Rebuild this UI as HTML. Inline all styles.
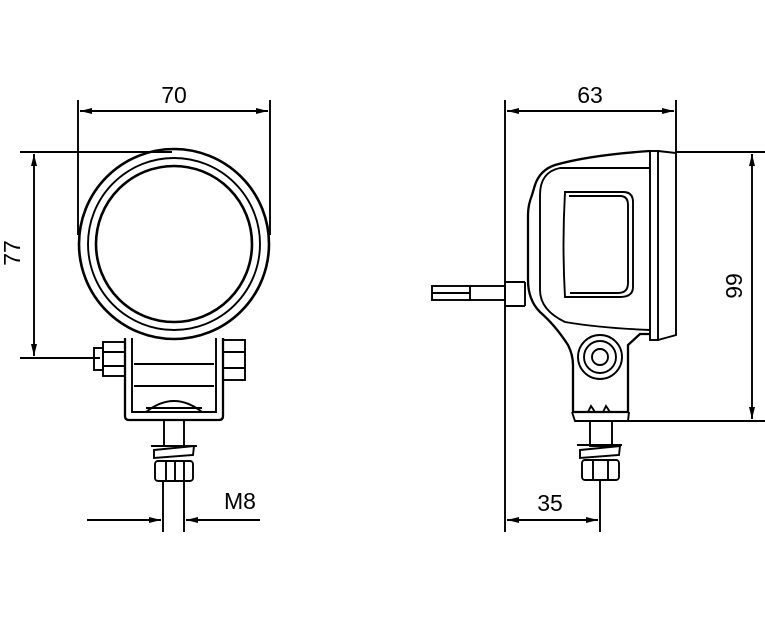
<!DOCTYPE html>
<html><head><style>body{margin:0;background:#fff}</style></head><body>
<svg width="765" height="612" viewBox="0 0 765 612" xmlns="http://www.w3.org/2000/svg" font-family="Liberation Sans, sans-serif">
<defs><marker id="a" viewBox="0 0 12 6" refX="12" refY="3" markerWidth="12" markerHeight="6" orient="auto-start-reverse" markerUnits="userSpaceOnUse"><path d="M0,0L12,3L0,6z" fill="#000"/></marker></defs>
<g stroke="#000" fill="none" stroke-width="1.9">
<line x1="78" y1="100" x2="78" y2="235"/><line x1="270" y1="100" x2="270" y2="235"/>
<line x1="80" y1="111" x2="268" y2="111" marker-start="url(#a)" marker-end="url(#a)"/>
<line x1="20" y1="152" x2="172" y2="152"/><line x1="20" y1="358" x2="100" y2="358"/>
<line x1="34" y1="154" x2="34" y2="356" marker-start="url(#a)" marker-end="url(#a)"/>
<circle cx="174" cy="244" r="95" stroke-width="2.6"/>
<circle cx="174" cy="244" r="86"/>
<circle cx="174" cy="244" r="78" stroke-width="2.6"/>
<path d="M125,338 V416 Q125,420 129,420 H219 Q223,420 223,416 V338" stroke-width="2.3"/>
<path d="M132,338 V412 H216 V338"/>
<line x1="134" y1="364" x2="214" y2="364"/><line x1="134" y1="386" x2="214" y2="386"/>
<path d="M146,412 Q174,390 202,412"/><line x1="146" y1="408" x2="202" y2="408"/>
<rect x="103" y="342" width="22" height="34"/><rect x="94" y="348" width="9" height="22"/>
<line x1="103" y1="352" x2="125" y2="352"/><line x1="103" y1="366" x2="125" y2="366"/>
<rect x="223" y="340" width="22" height="40"/><line x1="223" y1="352" x2="245" y2="352"/><line x1="223" y1="368" x2="245" y2="368"/>
<rect x="164" y="420" width="20" height="26"/>
<line x1="151" y1="446" x2="197" y2="446"/><path d="M154,450 L194,446 L193,455 L154,458z"/>
<rect x="155" y="461" width="38" height="20" rx="3"/><line x1="166" y1="461" x2="166" y2="481"/><line x1="175" y1="461" x2="175" y2="481"/><line x1="184" y1="461" x2="184" y2="481"/>
<line x1="163" y1="481" x2="163" y2="532"/><line x1="184" y1="481" x2="184" y2="532"/>
<line x1="87" y1="520" x2="161" y2="520" marker-end="url(#a)"/><line x1="260" y1="520" x2="186" y2="520" marker-end="url(#a)"/>
<line x1="505" y1="100" x2="505" y2="532"/><line x1="676" y1="100" x2="676" y2="152"/>
<line x1="507" y1="111" x2="674" y2="111" marker-start="url(#a)" marker-end="url(#a)"/>
<line x1="676" y1="152" x2="765" y2="152"/><line x1="628" y1="421" x2="765" y2="421"/>
<line x1="752" y1="154" x2="752" y2="419" marker-start="url(#a)" marker-end="url(#a)"/>
<line x1="600" y1="480" x2="600" y2="532"/>
<line x1="507" y1="520" x2="598" y2="520" marker-start="url(#a)" marker-end="url(#a)"/>
<path d="M650,151 Q590,155 555,165 Q540,170 535,185 L532,195 Q528,205 528,215 V280 Q528,300 540,312 Q555,325 568,345 Q573,355 573,365 V412 H628 V345 L640,334 H650" stroke-width="2.3"/>
<rect x="650" y="151" width="8" height="189"/><path d="M658,151 L676,153 V335 L658,340"/>
<path d="M650,168 H560 Q540,172 540,195 V290 Q540,310 565,322 Q600,328 650,330"/>
<path d="M565,192 H623 Q633,192 633,202 V287 Q633,297 620,297 H565 Q562,245 565,192z"/>
<path d="M569,196 H620 Q628,196 628,205 V283 Q628,293 618,293 H570"/>
<circle cx="600" cy="357" r="22"/><circle cx="600" cy="357" r="16"/><circle cx="600" cy="357" r="8"/>
<path d="M572,412 L575,421 H628 L629,412 M588,412 L591,406 L595,412 M603,412 L606,406 L610,412"/>
<line x1="505" y1="282" x2="525" y2="282"/><line x1="505" y1="306" x2="525" y2="306"/><line x1="525" y1="282" x2="525" y2="306"/>
<rect x="432" y="286" width="73" height="14"/><line x1="432" y1="293" x2="470" y2="293"/><line x1="470" y1="286" x2="470" y2="300"/>
<rect x="590" y="421" width="22" height="25"/>
<line x1="577" y1="445" x2="622" y2="445"/><path d="M580,450 L620,446 L619,455 L580,458z"/>
<rect x="582" y="460" width="37" height="20" rx="3"/><line x1="593" y1="460" x2="593" y2="480"/><line x1="608" y1="460" x2="608" y2="480"/>
</g>
<g font-size="23" fill="#000" text-anchor="middle">
<text x="174" y="103">70</text>
<text x="590" y="103">63</text>
<text x="240" y="509">M8</text>
<text x="550" y="511">35</text>
<text transform="translate(20,253) rotate(-90)">77</text>
<text transform="translate(742,286) rotate(-90)">99</text>
</g>
</svg>
</body></html>
